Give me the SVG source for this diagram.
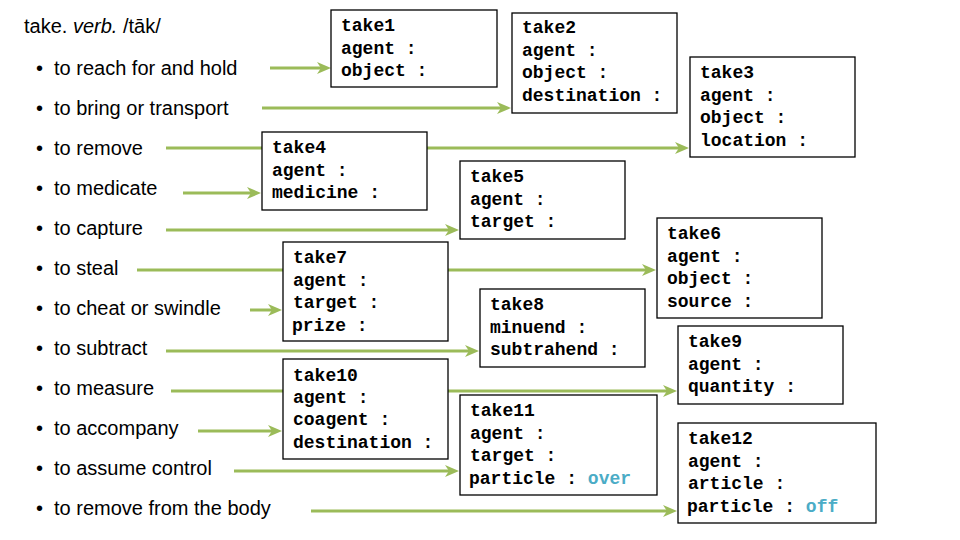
<svg xmlns="http://www.w3.org/2000/svg" width="960" height="540" viewBox="0 0 960 540">
<style>
.t{font-family:"Liberation Sans",Arial,sans-serif;font-size:20px;fill:#000}
.box{fill:#fff;stroke:#000;stroke-width:1.3}
.m{font-family:"Liberation Mono","Courier New",monospace;font-size:18px;font-weight:bold;fill:#000}
.hl{fill:#4BACC6}
.c line{stroke:#9BBB59;stroke-width:3;marker-end:url(#ah)}
</style>
<defs>
<marker id="ah" markerUnits="userSpaceOnUse" viewBox="0 0 14 12" markerWidth="14" markerHeight="12" refX="6" refY="6" orient="auto">
<path d="M0,0 L14,6 L0,12 L4,6 z" fill="#9BBB59"/>
</marker>
</defs>
<rect width="960" height="540" fill="#fff"/>
<g id="senses" class="t">
<text x="24" y="33">take. <tspan font-style="italic">verb.</tspan> /tāk/</text>
<text x="36" y="75">•</text><text x="54" y="75">to reach for and hold</text>
<text x="36" y="115">•</text><text x="54" y="115">to bring or transport</text>
<text x="36" y="155">•</text><text x="54" y="155">to remove</text>
<text x="36" y="195">•</text><text x="54" y="195">to medicate</text>
<text x="36" y="235">•</text><text x="54" y="235">to capture</text>
<text x="36" y="275">•</text><text x="54" y="275">to steal</text>
<text x="36" y="315">•</text><text x="54" y="315">to cheat or swindle</text>
<text x="36" y="355">•</text><text x="54" y="355">to subtract</text>
<text x="36" y="395">•</text><text x="54" y="395">to measure</text>
<text x="36" y="435">•</text><text x="54" y="435">to accompany</text>
<text x="36" y="475">•</text><text x="54" y="475">to assume control</text>
<text x="36" y="515">•</text><text x="54" y="515">to remove from the body</text>
</g>
<g id="connectors" class="c">
<line x1="270" y1="68" x2="323" y2="68"/>
<line x1="262" y1="108" x2="503" y2="108"/>
<line x1="166" y1="148" x2="681" y2="148"/>
<line x1="183" y1="193" x2="253" y2="193"/>
<line x1="166" y1="230" x2="451" y2="230"/>
<line x1="137" y1="270" x2="648" y2="270"/>
<line x1="250" y1="310" x2="274" y2="310"/>
<line x1="166" y1="351" x2="471" y2="351"/>
<line x1="171" y1="391" x2="669" y2="391"/>
<line x1="198" y1="431" x2="274" y2="431"/>
<line x1="234" y1="471" x2="451" y2="471"/>
<line x1="311" y1="511" x2="669" y2="511"/>
</g>
<g id="take1"><rect class="box" x="331" y="10" width="166" height="77"/>
<text class="m" x="341" y="31">take1</text><text class="m" x="341" y="54">agent :</text><text class="m" x="341" y="76">object :</text></g>
<g id="take2"><rect class="box" x="512" y="13" width="165" height="100"/>
<text class="m" x="522" y="33">take2</text><text class="m" x="522" y="56">agent :</text><text class="m" x="522" y="78">object :</text><text class="m" x="522" y="101">destination :</text></g>
<g id="take3"><rect class="box" x="690" y="57" width="165" height="100"/>
<text class="m" x="700" y="78">take3</text><text class="m" x="700" y="101">agent :</text><text class="m" x="700" y="123">object :</text><text class="m" x="700" y="146">location :</text></g>
<g id="take4"><rect class="box" x="262" y="132" width="165" height="78"/>
<text class="m" x="272" y="153">take4</text><text class="m" x="272" y="176">agent :</text><text class="m" x="272" y="198">medicine :</text></g>
<g id="take5"><rect class="box" x="460" y="161" width="165" height="78"/>
<text class="m" x="470" y="182">take5</text><text class="m" x="470" y="205">agent :</text><text class="m" x="470" y="227">target :</text></g>
<g id="take6"><rect class="box" x="657" y="218" width="165" height="100"/>
<text class="m" x="667" y="239">take6</text><text class="m" x="667" y="262">agent :</text><text class="m" x="667" y="284">object :</text><text class="m" x="667" y="307">source :</text></g>
<g id="take7"><rect class="box" x="283" y="242" width="165" height="99"/>
<text class="m" x="293" y="263">take7</text><text class="m" x="293" y="286">agent :</text><text class="m" x="293" y="308">target :</text><text class="m" x="292" y="331">prize :</text></g>
<g id="take8"><rect class="box" x="480" y="289" width="165" height="78"/>
<text class="m" x="490" y="310">take8</text><text class="m" x="490" y="333">minuend :</text><text class="m" x="490" y="355">subtrahend :</text></g>
<g id="take9"><rect class="box" x="678" y="326" width="165" height="78"/>
<text class="m" x="688" y="347">take9</text><text class="m" x="688" y="370">agent :</text><text class="m" x="688" y="392">quantity :</text></g>
<g id="take10"><rect class="box" x="283" y="359" width="165" height="100"/>
<text class="m" x="293" y="381">take10</text><text class="m" x="293" y="403">agent :</text><text class="m" x="293" y="425">coagent :</text><text class="m" x="293" y="448">destination :</text></g>
<g id="take11"><rect class="box" x="460" y="395" width="197" height="100"/>
<text class="m" x="470" y="416">take11</text><text class="m" x="470" y="439">agent :</text><text class="m" x="470" y="461">target :</text><text class="m" x="469" y="484">particle : <tspan class="hl">over</tspan></text></g>
<g id="take12"><rect class="box" x="678" y="423" width="198" height="100"/>
<text class="m" x="688" y="444">take12</text><text class="m" x="688" y="467">agent :</text><text class="m" x="688" y="489">article :</text><text class="m" x="687" y="512">particle : <tspan class="hl">off</tspan></text></g>
</svg>
